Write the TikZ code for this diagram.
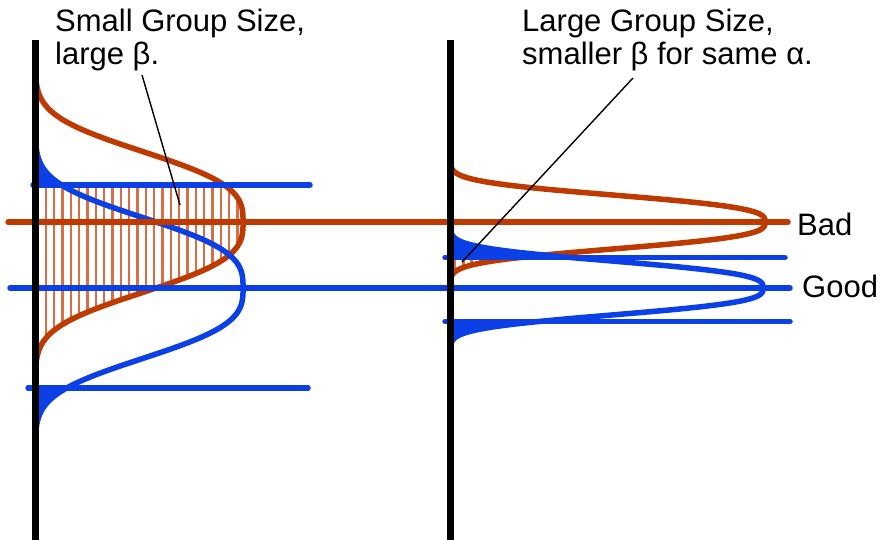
\documentclass[tikz,border=0pt]{standalone}
\usepackage{fontspec}
\setmainfont{Liberation Sans}
\usetikzlibrary{positioning}
\definecolor{cbad}{HTML}{BE3A00}
\definecolor{cgood}{HTML}{0A40E6}
\definecolor{chatch}{HTML}{D86E45}
\tikzset{
  axisline/.style={line width=7pt, black},
  badline/.style={line width=5.5pt, cbad, line cap=round, line join=round},
  goodline/.style={line width=5.5pt, cgood, line cap=round, line join=round},
  hatchline/.style={line width=2.4pt, chatch},
  leader/.style={line width=1.4pt, black},
  biglabel/.style={font=\fontsize{31}{33}\selectfont, inner sep=0pt, align=left}
}
% sideways bell: axis x, height, centre y, spread, range
\newcommand{\bell}[5]{plot[variable=\t, domain=#5, samples=121, smooth]
  ({#1+#2*exp(-((abs(\t)/#4)^3))}, {#3+\t})}

\begin{document}
\begin{tikzpicture}[x=1pt, y=-1pt]
    \useasboundingbox (0,0) rectangle (880,540);

    % tails of the good distribution
    \fill[cgood] \bell{35}{208}{288}{81}{-146:-103} -- (35,185) -- cycle;
    \fill[cgood] \bell{35}{208}{288}{81}{100:147} -- (35,388) -- cycle;
    \fill[cgood] \bell{450}{313}{288}{31}{-54:-30.5} -- (450,257.5) -- cycle;
    \fill[cgood] \bell{450}{313}{288}{31}{33.5:55} -- (450,321.5) -- cycle;

    % beta regions
    \begin{scope}
      \clip \bell{35}{208}{222}{81}{-37:146} -- (35,185) -- cycle;
      \foreach \i in {0,...,25}
        \draw[hatchline] ({37.5+8.33*\i},180) -- ++(0,200);
    \end{scope}
    \begin{scope}
      \clip \bell{450}{315}{222}{31}{35.5:57} -- (450,257.5) -- cycle;
      \foreach \i in {0,...,10}
        \draw[hatchline] ({455+8.33*\i},250) -- ++(0,40);
    \end{scope}

    % distributions
    \draw[badline] \bell{35}{208}{222}{81}{-145:146};
    \draw[goodline] \bell{35}{208}{288}{81}{-146:147};
    \draw[badline] \bell{450}{315}{222}{31}{-55:57};
    \draw[goodline] \bell{450}{313}{288}{31}{-54:55};

    % thresholds
    \draw[goodline] (33,185) -- (310,185);
    \draw[goodline] (28,388) -- (308,388);
    \draw[goodline] (445,257.5) -- (785,257.5);
    \draw[goodline] (445,321.5) -- (790,321.5);
    \draw[badline] (8,222) -- (788,222);
    \draw[goodline] (10,288) -- (790,288);

    % axes
    \draw[axisline] (35,40) -- (35,540);
    \draw[axisline] (450,40) -- (450,540);

    % labels
    \node[biglabel, anchor=north west] (smalltext) at (55,9) {Small Group Size,\\large β.};
    \node[biglabel, anchor=north west] (largetext) at (522,9) {Large Group Size,\\smaller β for same α.};
    \node[biglabel, anchor=west] (badtext) at (797,224) {Bad};
    \node[biglabel, anchor=west] (goodtext) at (802,286) {Good};

    \coordinate (smalltip) at (142,75);
    \coordinate (smallend) at (180,205);
    \coordinate (largetip) at (633,78);
    \coordinate (largeend) at (462,262);
    \draw[leader] (smalltip) -- (smallend);
    \draw[leader] (largetip) -- (largeend);
  \end{tikzpicture}
\end{document}
